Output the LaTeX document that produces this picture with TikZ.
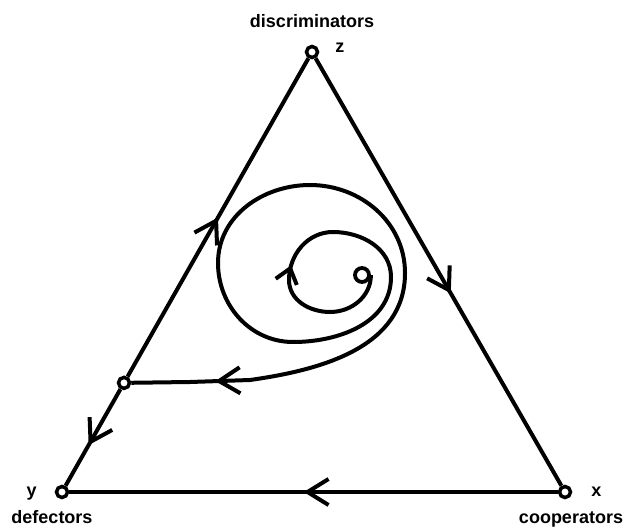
\documentclass[tikz,border=0pt]{standalone}
\usepackage{fontspec}
\setmainfont{Liberation Sans}
\usetikzlibrary{arrows.meta,calc,decorations.markings,positioning}

\begin{document}
\begin{tikzpicture}[
    x=1pt, y=1pt,
    >={Straight Barb[length=21pt,width=26pt]},
    vertex/.style={
        circle,
        draw=black,
        fill=white,
        line width=3.5pt,
        inner sep=0pt,
        minimum size=11pt
    },
    focus/.style={
        circle,
        draw=black,
        fill=white,
        line width=3.8pt,
        inner sep=0pt,
        minimum size=14pt
    },
    corner/.style={
        inner sep=0pt,
        text height=13pt,
        text depth=3.8pt,
        font=\bfseries\fontsize{18}{20}\selectfont
    },
    flowline/.style={line width=4pt},
    midarrow/.style={
        postaction={decorate, decoration={markings, mark=at position #1 with {\arrow{>}}}}
    },
    turnarrow/.style={
        postaction={decorate, decoration={markings, mark=at position #1 with {\arrow{Straight Barb[length=14pt,width=22pt]}}}}
    }
]
\useasboundingbox (0,0) rectangle (628,528);
\node (z) [vertex] at (312,476) {};
\node (x) [vertex] at (565,36) {};
\node (y) [vertex] at (62,36) {};
\node (p) [vertex] at ($(y)!0.248!(z)$) {};
\node (c) [focus] at (362,253) {};
\node (zname) [corner, above=13pt of z] {discriminators};
\node (zlabel) [corner, right=16pt of z, yshift=4pt] {z};
\node (xlabel) [corner, right=19pt of x] {x};
\node (xname) [corner, below=11pt of x, xshift=6pt] {cooperators};
\node (ylabel) [corner, left=18pt of y] {y};
\node (yname) [corner, below=11pt of y, xshift=-10pt] {defectors};
\draw [flowline, midarrow=0.55] (z) -- (x);
\draw [flowline, midarrow=0.52] (x) -- (y);
\draw [flowline, midarrow=0.50] (p) -- (z);
\draw [flowline, midarrow=0.58] (p) -- (y);
\draw [flowline, turnarrow=134pt, midarrow=-84pt]
    (c.east) to[out=-90,in=0] (330,216)
    to[out=180,in=-90] (289,248)
    to[out=90,in=180] (333,296)
    to[out=0,in=90] (391,251)
    to[out=-90,in=0] (293,186)
    to[out=180,in=-90] (218,265)
    to[out=90,in=180] (310,343)
    to[out=0,in=90] (405,255)
    to[out=-90,in=8] (250,148)
    -- (190,146) -- (p);
\end{tikzpicture}
\end{document}
